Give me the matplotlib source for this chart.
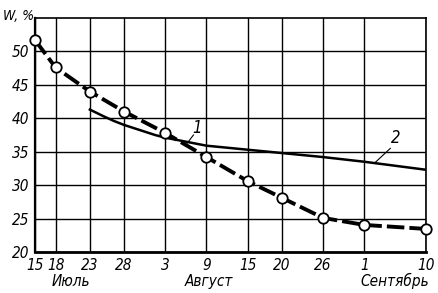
import matplotlib
matplotlib.use("Agg")
import matplotlib.pyplot as plt
from matplotlib import font_manager as fm

# Days counted from 15 July
day_ticks = [0, 3, 8, 13, 19, 25, 31, 36, 42, 48, 57]
tick_labels = ["15", "18", "23", "28", "3", "9", "15", "20", "26", "1", "10"]
month_labels = ["Июль", "Август", "Сентябрь"]
month_pos = [5.2, 25.3, 52.5]

# Curve 1 (thick dashed with circles)
c1_days = [0, 3, 8, 13, 19, 25, 31, 36, 42, 48, 57]
c1_vals = [51.7, 47.6, 44.0, 41.0, 37.8, 34.2, 30.6, 28.1, 25.1, 24.05, 23.45]

# Curve 2 (solid)
c2_days = [8, 9, 10, 11.5, 13, 14.5, 16, 17.5, 19, 21.5, 25, 28, 31, 36, 42, 48, 57]
c2_vals = [41.3, 40.8, 40.3, 39.6, 39.0, 38.5, 38.0, 37.5, 37.1, 36.6, 35.9, 35.6, 35.3, 34.8, 34.2, 33.5, 32.3]

yticks = [20, 25, 30, 35, 40, 45, 50]

names = {f.name for f in fm.fontManager.ttflist}
fam = "Liberation Sans Narrow" if "Liberation Sans Narrow" in names else "DejaVu Sans"
plt.rcParams["font.family"] = [fam, "DejaVu Sans"]
st = "condensed"
FS = 11

fig = plt.figure(figsize=(4.39, 2.93), dpi=100)
ax = fig.add_axes([35/439, 1-252/293, (426-35)/439, (252-18)/293])

ax.set_xlim(0, 57)
ax.set_ylim(20, 55)
ax.set_xticks(day_ticks)
ax.set_xticklabels(tick_labels, fontsize=FS, fontstyle="italic", fontstretch=st)
ax.set_yticks(yticks)
ax.set_yticklabels([str(v) for v in yticks], fontsize=FS, fontstyle="italic", fontstretch=st)
ax.tick_params(length=0, pad=4)
ax.grid(True, color="black", linewidth=1.0)
for s in ax.spines.values():
    s.set_linewidth(1.2)
ax.spines["bottom"].set_linewidth(2.0)
ax.spines["left"].set_linewidth(1.6)

ax.plot(c2_days, c2_vals, color="black", linewidth=1.8, zorder=3)
ax.plot(c1_days, c1_vals, color="black", linewidth=2.8, dashes=(4.5, 1.3),
        marker="o", markersize=7.5, markerfacecolor="white",
        markeredgecolor="black", markeredgewidth=1.3, zorder=4, clip_on=False)

for lab, pos in zip(month_labels, month_pos):
    ax.text(pos, -0.125, lab, transform=ax.get_xaxis_transform(),
            ha="center", va="center", fontsize=FS, fontstyle="italic", fontstretch=st)

fig.text(3/439, 1-16/293, "W, %", ha="left", va="center",
         fontsize=10, fontstyle="italic", fontstretch=st)

# curve labels with leader lines
ax.plot([22.2, 23.1], [36.3, 37.5], color="black", linewidth=0.8)
ax.text(23.6, 38.6, "1", fontsize=12, fontstyle="italic", ha="center", va="center", fontstretch=st)
ax.plot([49.6, 51.8], [33.4, 35.5], color="black", linewidth=0.8)
ax.text(52.6, 37.0, "2", fontsize=12, fontstyle="italic", ha="center", va="center", fontstretch=st)

fig.savefig("out.png", dpi=100)
